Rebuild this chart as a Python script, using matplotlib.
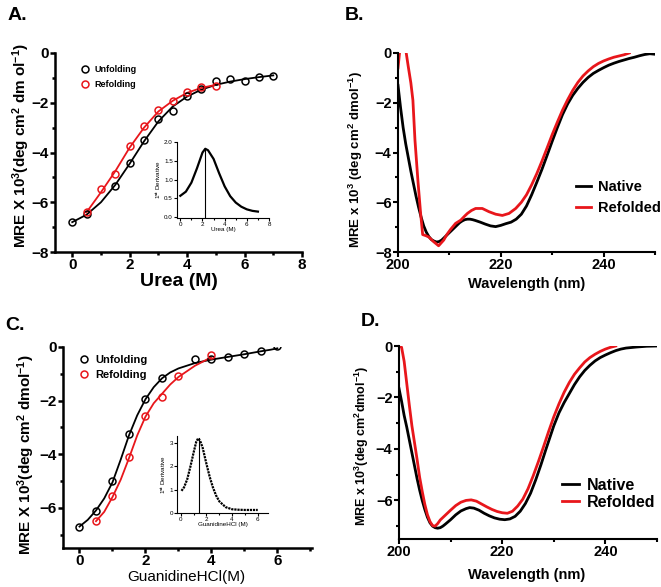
import matplotlib
matplotlib.use("Agg")
import matplotlib.pyplot as plt
from matplotlib.ticker import MultipleLocator

plt.rcParams['font.family'] = ['Liberation Sans', 'DejaVu Sans']
plt.rcParams['font.weight'] = 'bold'
plt.rcParams['mathtext.fontset'] = 'custom'
plt.rcParams['mathtext.rm'] = 'Liberation Sans:bold'
plt.rcParams['mathtext.it'] = 'Liberation Sans:bold'
plt.rcParams['mathtext.bf'] = 'Liberation Sans:bold'

# ---- A: urea denaturation ----
urea_unf_x = [0, 0.5, 1.5, 2, 2.5, 3, 3.5, 4, 4.5, 5, 5.5, 6, 6.5, 7]
urea_unf_y = [-6.81, -6.47, -5.34, -4.42, -3.51, -2.64, -2.35, -1.74, -1.45, -1.11, -1.03, -1.11, -0.98, -0.91]
urea_ref_x = [0.5, 1, 1.5, 2, 2.5, 3, 3.5, 4, 4.5, 5]
urea_ref_y = [-6.39, -5.46, -4.85, -3.75, -2.92, -2.28, -1.94, -1.57, -1.38, -1.33]
urea_fit_unf_x = [0, 0.5, 1.0, 1.5, 2.0, 2.5, 3.0, 3.5, 4.0, 4.5, 5.0, 5.5, 6.0, 6.5, 7.0]
urea_fit_unf_y = [-6.80, -6.5, -6.0, -5.3, -4.45, -3.55, -2.75, -2.15, -1.75, -1.47, -1.28, -1.15, -1.05, -0.97, -0.90]
urea_fit_ref_x = [0.5, 1.0, 1.5, 2.0, 2.5, 3.0, 3.5, 4.0, 4.5, 5.0]
urea_fit_ref_y = [-6.40, -5.6, -4.75, -3.8, -3.0, -2.35, -1.92, -1.6, -1.40, -1.28]
urea_deriv_x = [0, 0.5, 1.0, 1.5, 2.0, 2.25, 2.5, 3.0, 3.5, 4.0, 4.5, 5.0, 5.5, 6.0, 6.5, 7.0]
urea_deriv_y = [0.57, 0.68, 0.92, 1.3, 1.72, 1.82, 1.78, 1.55, 1.17, 0.82, 0.56, 0.39, 0.28, 0.21, 0.17, 0.15]
urea_cm = 2.25

# ---- B: CD spectra after urea ----
wlB_nat = [200, 200.5, 201, 201.5, 202, 202.5, 203, 203.5, 204, 204.5, 205, 205.5, 206, 206.5, 207, 207.5,
           208, 208.5, 209, 209.5, 210, 210.5, 211, 211.5, 212, 212.5, 213, 213.5, 214, 214.5, 215, 216,
           217, 218, 219, 220, 221, 222, 223, 224, 225, 226, 227, 228, 229, 230, 231, 232, 233, 234, 235,
           236, 237, 238, 239, 240, 241, 242, 243, 244, 245, 246, 247, 248, 249, 250]
mreB_nat = [-1.3, -2.2, -3.0, -3.65, -4.2, -4.75, -5.25, -5.75, -6.2, -6.6, -6.95, -7.2, -7.38, -7.5, -7.56, -7.6,
            -7.58, -7.52, -7.42, -7.32, -7.22, -7.12, -7.02, -6.92, -6.82, -6.75, -6.7, -6.68, -6.68, -6.7, -6.73, -6.8,
            -6.88, -6.95, -6.98, -6.93, -6.86, -6.8, -6.68, -6.48, -6.15, -5.7, -5.2, -4.68, -4.12, -3.55, -3.0, -2.48,
            -2.05, -1.7, -1.42, -1.18, -0.98, -0.82, -0.7, -0.59, -0.49, -0.41, -0.34, -0.28, -0.22, -0.17, -0.11, -0.06,
            -0.03, -0.05]
wlB_ref = [200, 200.3, 201, 201.6, 202, 202.5, 202.9, 203.3, 203.9, 204.4, 204.8, 205.5, 206, 206.9, 207.9,
           208.9, 209.5, 210.2, 211.2, 212.2, 213, 213.5, 214.3, 215.1, 216.4, 217.7, 219, 220.3, 221.6, 222.9,
           224, 225, 226, 227, 228, 229, 230, 231, 232, 233, 234, 235, 236, 237, 238, 239, 240, 241, 242, 243,
           244, 245]
mreB_ref = [-0.6, 0.0, 1.0, 0.0, -0.55, -1.2, -1.9, -3.5, -5.2, -6.45, -7.3, -7.35, -7.4, -7.58, -7.75,
            -7.52, -7.3, -7.1, -6.85, -6.72, -6.55, -6.45, -6.33, -6.25, -6.25, -6.38, -6.48, -6.53, -6.45, -6.25,
            -6.0, -5.7, -5.3, -4.85, -4.35, -3.82, -3.28, -2.78, -2.3, -1.88, -1.5, -1.18, -0.92, -0.72, -0.55, -0.42,
            -0.32, -0.24, -0.17, -0.12, -0.07, 0.0]

# ---- C: guanidine HCl denaturation ----
gdn_unf_x = [0, 0.5, 1.0, 1.5, 2.0, 2.5, 3.5, 4.0, 4.5, 5.0, 5.5, 6.0]
gdn_unf_y = [-6.71, -6.11, -5.01, -3.25, -1.95, -1.15, -0.46, -0.46, -0.36, -0.26, -0.15, 0.02]
gdn_ref_x = [0.5, 1.0, 1.5, 2.0, 2.5, 3.0, 4.0]
gdn_ref_y = [-6.51, -5.55, -4.11, -2.58, -1.88, -1.09, -0.30]
gdn_fit_unf_x = [0, 0.25, 0.5, 0.75, 1.0, 1.25, 1.5, 1.75, 2.0, 2.25, 2.5, 2.75, 3.0, 3.5, 4.0, 4.5, 5.0, 5.5, 5.8, 6.0]
gdn_fit_unf_y = [-6.7, -6.45, -6.1, -5.65, -5.05, -4.2, -3.3, -2.55, -1.95, -1.5, -1.17, -0.95, -0.8, -0.6,
                 -0.47, -0.37, -0.27, -0.16, -0.1, -0.05]
gdn_fit_ref_x = [0.5, 0.75, 1.0, 1.25, 1.5, 1.75, 2.0, 2.25, 2.5, 2.75, 3.0, 3.5, 4.0]
gdn_fit_ref_y = [-6.5, -6.15, -5.6, -4.95, -4.15, -3.3, -2.6, -2.1, -1.75, -1.4, -1.12, -0.7, -0.38]
gdn_deriv_x = [0.05, 0.25, 0.5, 0.75, 1.0, 1.2, 1.35, 1.5, 1.7, 2.0, 2.25, 2.5, 2.75, 3.0, 3.5, 4.0, 4.5, 5.0, 6.0]
gdn_deriv_y = [0.95, 1.1, 1.45, 2.0, 2.6, 3.05, 3.2, 3.1, 2.8, 2.1, 1.55, 1.1, 0.75, 0.5, 0.25, 0.16, 0.14, 0.13, 0.13]
gdn_cm = 1.38

# ---- D: CD spectra after guanidine HCl ----
wlD_nat = [200, 200.5, 201, 201.5, 202, 202.5, 203, 203.5, 204, 204.5, 205, 205.5, 206, 206.5, 207, 207.5,
           208, 208.5, 209, 210, 211, 212, 213, 213.7, 214.5, 215.5, 216.5, 217.5, 218.5, 219.5, 220.5, 221.5,
           222.5, 223.5, 224.5, 225.5, 226.5, 227.5, 228.5, 230, 231, 232, 233, 234, 235, 236, 237, 238, 239,
           240, 241, 242, 243, 244, 246, 248, 250]
mreD_nat = [-1.65, -2.15, -2.7, -3.15, -3.65, -4.15, -4.65, -5.15, -5.6, -6.0, -6.35, -6.65, -6.87, -7.0, -7.06, -7.08,
            -7.06, -7.0, -6.92, -6.75, -6.56, -6.41, -6.32, -6.28, -6.3, -6.38, -6.5, -6.6, -6.68, -6.73, -6.75, -6.72,
            -6.62, -6.42, -6.12, -5.72, -5.2, -4.62, -4.0, -3.1, -2.6, -2.2, -1.85, -1.5, -1.2, -0.95, -0.75, -0.58,
            -0.45, -0.35, -0.26, -0.18, -0.12, -0.08, -0.04, -0.01, 0.0]
wlD_ref = [200, 200.5, 201, 201.5, 202, 202.5, 203, 203.5, 204, 204.5, 205, 205.5, 206, 206.5, 207, 207.5, 208,
           209, 210, 211, 212, 213, 214, 215, 216, 217, 218, 219, 220, 221, 222, 223, 224, 225, 226, 227, 228,
           229, 230, 231, 232, 233, 234, 235, 236, 237, 238, 239, 240, 241, 242]
mreD_ref = [0.0, -0.05, -0.6, -1.45, -2.3, -3.1, -3.75, -4.4, -5.1, -5.65, -6.15, -6.55, -6.82, -6.98, -7.0, -6.9,
            -6.76, -6.57, -6.38, -6.2, -6.07, -6.0, -5.98, -6.03, -6.14, -6.25, -6.35, -6.43, -6.48, -6.5, -6.42, -6.22,
            -5.95, -5.55, -5.05, -4.5, -3.92, -3.32, -2.75, -2.25, -1.8, -1.42, -1.1, -0.85, -0.62, -0.45, -0.32,
            -0.21, -0.12, -0.05, 0.0]

RED = '#e8161b'
W, H = 661, 587


def px(l, t, r, b):
    # pixel box -> figure fraction rect
    return [l / W, 1 - b / H, (r - l) / W, (b - t) / H]


def style_axes(ax, lw=1.6, size=11):
    for s in ['top', 'right']:
        ax.spines[s].set_visible(False)
    for s in ['left', 'bottom']:
        ax.spines[s].set_linewidth(lw)
    ax.tick_params(which='major', direction='out', length=3.6, width=lw, labelsize=size, pad=1)
    ax.tick_params(which='minor', direction='out', length=2.2, width=lw)
    for lab in ax.get_xticklabels() + ax.get_yticklabels():
        lab.set_fontweight('bold')


def style_inset(ax):
    for s in ['top', 'right']:
        ax.spines[s].set_visible(False)
    for s in ['left', 'bottom']:
        ax.spines[s].set_linewidth(0.8)
    ax.tick_params(which='major', direction='out', length=2, width=0.8, labelsize=4.5, pad=1)
    ax.tick_params(which='minor', direction='out', length=1.2, width=0.8)
    for lab in ax.get_xticklabels() + ax.get_yticklabels():
        lab.set_fontweight('normal')


fig = plt.figure(figsize=(6.61, 5.87), dpi=100)

# ---------- panel A ----------
axA = fig.add_axes(px(55, 53, 302, 252))
axA.plot(urea_fit_unf_x, urea_fit_unf_y, color='black', lw=1.3)
axA.plot(urea_fit_ref_x, urea_fit_ref_y, color=RED, lw=1.3)
axA.plot(urea_unf_x, urea_unf_y, 'o', mfc='none', mec='black', ms=5, mew=1.1, label='Unfolding')
axA.plot(urea_ref_x, urea_ref_y, 'o', mfc='none', mec=RED, ms=5, mew=1.1, label='Refolding')
axA.set_xlim(-0.6, 8)
axA.set_ylim(-8, 0)
axA.xaxis.set_major_locator(MultipleLocator(2))
axA.xaxis.set_minor_locator(MultipleLocator(1))
axA.yaxis.set_major_locator(MultipleLocator(2))
axA.yaxis.set_minor_locator(MultipleLocator(1))
style_axes(axA, lw=1.8, size=11)
axA.legend(loc='upper left', bbox_to_anchor=(0.09, 0.96), frameon=False,
           handlelength=0.8, handletextpad=0.6, labelspacing=0.6, borderpad=0,
           prop={'size': 6.5, 'weight': 'bold'})

insA = fig.add_axes(px(177, 142, 269, 218))
insA.plot(urea_deriv_x, urea_deriv_y, color='black', lw=1.6)
insA.plot([urea_cm, urea_cm], [0, max(urea_deriv_y)], color='black', lw=0.8)
insA.set_xlim(-0.3, 8)
insA.set_ylim(-0.02, 2.0)
insA.xaxis.set_major_locator(MultipleLocator(2))
insA.xaxis.set_minor_locator(MultipleLocator(1))
insA.yaxis.set_major_locator(MultipleLocator(0.5))
insA.yaxis.set_major_formatter('{x:.1f}')
style_inset(insA)
insA.set_xlabel('Urea (M)', fontsize=4.5, fontweight='normal', labelpad=0)
insA.set_ylabel('1$^{st}$ Derivative', fontsize=4.5, fontweight='normal', labelpad=1)

# ---------- panel B ----------
axB = fig.add_axes(px(398, 53, 655, 252))
axB.plot(wlB_nat, mreB_nat, color='black', lw=2.0, label='Native')
axB.plot(wlB_ref, mreB_ref, color=RED, lw=2.0, label='Refolded')
axB.set_xlim(200, 250)
axB.set_ylim(-8, 0)
axB.xaxis.set_major_locator(MultipleLocator(20))
axB.xaxis.set_minor_locator(MultipleLocator(10))
axB.yaxis.set_major_locator(MultipleLocator(2))
axB.yaxis.set_minor_locator(MultipleLocator(1))
style_axes(axB, lw=1.5, size=10.5)
axB.legend(loc='upper left', bbox_to_anchor=(0.665, 0.40), frameon=False,
           handlelength=1.0, handletextpad=0.5, labelspacing=0.5, borderpad=0,
           prop={'size': 10.5, 'weight': 'bold'})

# ---------- panel C ----------
axC = fig.add_axes(px(63, 347, 312, 548))
axC.plot(gdn_fit_unf_x, gdn_fit_unf_y, color='black', lw=1.3)
axC.plot(gdn_fit_ref_x, gdn_fit_ref_y, color=RED, lw=1.3)
axC.plot(gdn_unf_x, gdn_unf_y, 'o', mfc='none', mec='black', ms=5, mew=1.1, label='Unfolding')
axC.plot(gdn_ref_x, gdn_ref_y, 'o', mfc='none', mec=RED, ms=5, mew=1.1, label='Refolding')
axC.set_xlim(-0.5, 7.05)
axC.set_ylim(-7.5, 0)
axC.xaxis.set_major_locator(MultipleLocator(2))
axC.xaxis.set_minor_locator(MultipleLocator(1))
axC.yaxis.set_major_locator(MultipleLocator(2))
axC.yaxis.set_minor_locator(MultipleLocator(1))
style_axes(axC, lw=1.8, size=11)
axC.legend(loc='upper left', bbox_to_anchor=(0.045, 0.99), frameon=False,
           handlelength=0.8, handletextpad=0.6, labelspacing=0.5, borderpad=0,
           prop={'size': 8, 'weight': 'bold'})

insC = fig.add_axes(px(177, 436, 268, 513))
insC.plot(gdn_deriv_x, gdn_deriv_y, color='black', lw=1.6, ls=(0, (1, 0.4)))
insC.plot([gdn_cm, gdn_cm], [0, max(gdn_deriv_y)], color='black', lw=0.8)
insC.set_xlim(-0.3, 6.8)
insC.set_ylim(0, 3.3)
insC.xaxis.set_major_locator(MultipleLocator(2))
insC.xaxis.set_minor_locator(MultipleLocator(1))
insC.yaxis.set_major_locator(MultipleLocator(1))
style_inset(insC)
insC.set_xlabel('GuanidineHCl (M)', fontsize=4.5, fontweight='normal', labelpad=0)
insC.set_ylabel('1$^{st}$ Derivative', fontsize=4.5, fontweight='normal', labelpad=1)

# ---------- panel D ----------
axD = fig.add_axes(px(399, 346, 657, 539))
axD.plot(wlD_nat, mreD_nat, color='black', lw=2.0, label='Native')
axD.plot(wlD_ref, mreD_ref, color=RED, lw=2.0, label='Refolded')
axD.set_xlim(200, 250)
axD.set_ylim(-7.5, 0)
axD.xaxis.set_major_locator(MultipleLocator(20))
axD.xaxis.set_minor_locator(MultipleLocator(10))
axD.yaxis.set_major_locator(MultipleLocator(2))
axD.yaxis.set_minor_locator(MultipleLocator(1))
style_axes(axD, lw=1.5, size=10.5)
axD.legend(loc='upper left', bbox_to_anchor=(0.6, 0.36), frameon=False,
           handlelength=1.1, handletextpad=0.5, labelspacing=0.15, borderpad=0,
           prop={'size': 11.5, 'weight': 'bold'})

# ---------- labels ----------
def ftext(x, y, s, **kw):
    fig.text(x / W, 1 - y / H, s, ha='center', va='center', **kw)

ftext(17, 16, 'A.', fontsize=14, fontweight='bold')
ftext(355, 16, 'B.', fontsize=14, fontweight='bold')
ftext(15, 325, 'C.', fontsize=14, fontweight='bold')
ftext(370, 321, 'D.', fontsize=14, fontweight='bold')

ftext(21, 146, 'MRE X 10$^3$(deg cm$^2$ dm ol$^{-1}$)', fontsize=11, fontweight='bold', rotation=90)
ftext(356, 160, 'MRE x 10$^3$ (deg cm$^2$ dmol$^{-1}$)', fontsize=9.5, fontweight='bold', rotation=90)
ftext(26, 455, 'MRE X 10$^3$(deg cm$^2$ dmol$^{-1}$)', fontsize=11, fontweight='bold', rotation=90)
ftext(362, 446, 'MRE x 10$^3$(deg cm$^2$dmol$^{-1}$)', fontsize=9, fontweight='bold', rotation=90)

ftext(179, 281, 'Urea (M)', fontsize=14, fontweight='bold')
ftext(527, 284, 'Wavelength (nm)', fontsize=10.5, fontweight='bold')
ftext(186, 577, 'GuanidineHCl(M)', fontsize=11, fontweight='normal')
ftext(527, 575, 'Wavelength (nm)', fontsize=10.5, fontweight='bold')

fig.savefig('out.png', dpi=100)
